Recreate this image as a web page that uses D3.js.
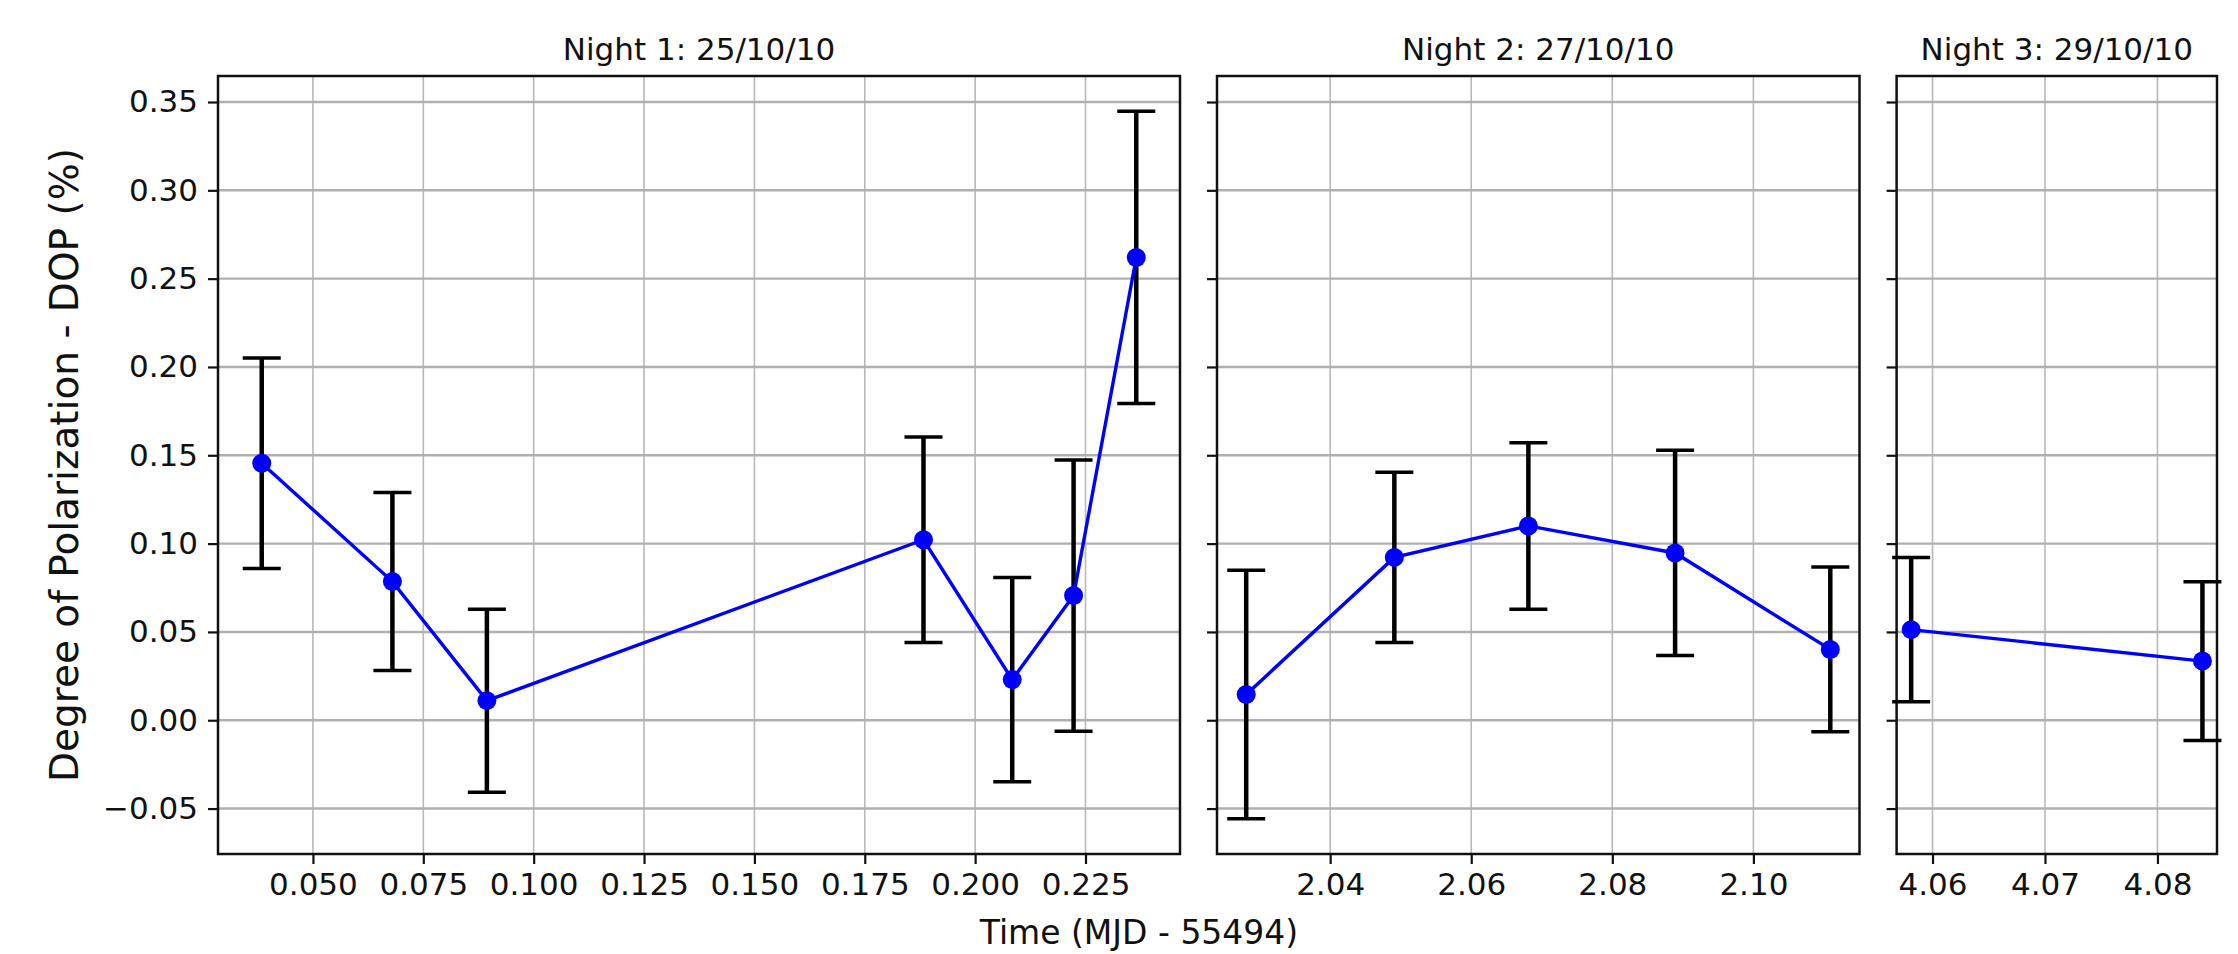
<!DOCTYPE html>
<html>
<head>
<meta charset="utf-8">
<script src="https://cdn.jsdelivr.net/npm/d3@7"></script>
<style>
  body { margin: 0; background: #fff; }
  text { font-family: "DejaVu Sans", sans-serif; fill: #111; }
</style>
</head>
<body>
<svg id="chart" width="2238" height="954"></svg>
<script>
// ---- data ----
var nightTitles = ["Night 1: 25/10/10", "Night 2: 27/10/10", "Night 3: 29/10/10"];

var night1Time = [0.0384, 0.0680, 0.0894, 0.1883, 0.2084, 0.2223, 0.2365];
var night1Dop  = [0.1455, 0.0785, 0.0111, 0.1022, 0.0230, 0.0706, 0.2620];
var night1Err  = [0.0596, 0.0504, 0.0518, 0.0582, 0.0578, 0.0768, 0.0827];

var night2Time = [2.0281, 2.0491, 2.0681, 2.0889, 2.1109];
var night2Dop  = [0.0146, 0.0922, 0.1100, 0.0947, 0.0401];
var night2Err  = [0.0703, 0.0482, 0.0471, 0.0581, 0.0466];

var night3Time = [4.0581, 4.0840];
var night3Dop  = [0.0513, 0.0335];
var night3Err  = [0.0408, 0.0449];

var night1Ticks = [0.050, 0.075, 0.100, 0.125, 0.150, 0.175, 0.200, 0.225];
var night2Ticks = [2.04, 2.06, 2.08, 2.10];
var night3Ticks = [4.06, 4.07, 4.08];
var dopTicks = [-0.05, 0.00, 0.05, 0.10, 0.15, 0.20, 0.25, 0.30, 0.35];

var panels = [
  {title: nightTitles[0], t: night1Time, v: night1Dop, e: night1Err, ticks: night1Ticks, fmt: ".3f", x0: 218, x1: 1180},
  {title: nightTitles[1], t: night2Time, v: night2Dop, e: night2Err, ticks: night2Ticks, fmt: ".2f", x0: 1217, x1: 1859.5},
  {title: nightTitles[2], t: night3Time, v: night3Dop, e: night3Err, ticks: night3Ticks, fmt: ".2f", x0: 1896.6, x1: 2217}
];

var plotTop = 76, plotBottom = 854;
var svg = d3.select("#chart");

// shared y scale, matplotlib-like 5% margins
var lows = [], highs = [];
panels.forEach(function(p) {
  p.v.forEach(function(d, i) { lows.push(d - p.e[i]); highs.push(d + p.e[i]); });
});
var yMin = d3.min(lows), yMax = d3.max(highs), yPad = (yMax - yMin) * 0.05;
var y = d3.scaleLinear().domain([yMin - yPad, yMax + yPad]).range([plotBottom, plotTop]);

panels.forEach(function(p, k) {
  var tMin = d3.min(p.t), tMax = d3.max(p.t), tPad = (tMax - tMin) * 0.05;
  var x = d3.scaleLinear().domain([tMin - tPad, tMax + tPad]).range([p.x0, p.x1]);
  var g = svg.append("g");

  // grid
  g.selectAll(".vgrid").data(p.ticks).enter().append("line")
    .attr("x1", function(d) { return x(d); }).attr("x2", function(d) { return x(d); })
    .attr("y1", plotTop).attr("y2", plotBottom)
    .attr("stroke", "#b8b8b8").attr("stroke-width", 1.6);
  g.selectAll(".hgrid").data(dopTicks).enter().append("line")
    .attr("x1", p.x0).attr("x2", p.x1)
    .attr("y1", function(d) { return y(d); }).attr("y2", function(d) { return y(d); })
    .attr("stroke", "#b0b0b0").attr("stroke-width", 2.4);

  // x axis
  var xAxis = d3.axisBottom(x).tickValues(p.ticks).tickFormat(d3.format(p.fmt))
    .tickSize(10).tickPadding(9);
  var gx = g.append("g").attr("transform", "translate(0," + plotBottom + ")").call(xAxis);
  gx.select(".domain").remove();
  gx.selectAll(".tick line").attr("stroke", "#111").attr("stroke-width", 2.2);
  gx.selectAll(".tick text").attr("font-size", 31).style("fill", "#111");

  // y axis (labels only on first panel)
  var yAxis = d3.axisLeft(y).tickValues(dopTicks).tickSize(10).tickPadding(10)
    .tickFormat(k === 0 ? d3.format(".2f") : function() { return ""; });
  var gy = g.append("g").attr("transform", "translate(" + p.x0 + ",0)").call(yAxis);
  gy.select(".domain").remove();
  gy.selectAll(".tick line").attr("stroke", "#111").attr("stroke-width", 2.2);
  gy.selectAll(".tick text").attr("font-size", 31).style("fill", "#111");

  // frame
  g.append("rect").attr("x", p.x0).attr("y", plotTop)
    .attr("width", p.x1 - p.x0).attr("height", plotBottom - plotTop)
    .attr("fill", "none").attr("stroke", "#111").attr("stroke-width", 2.5);

  // title
  g.append("text").attr("x", (p.x0 + p.x1) / 2).attr("y", 60)
    .attr("text-anchor", "middle").attr("font-size", 31).text(p.title);

  var pts = p.t.map(function(t, i) { return {t: t, v: p.v[i], e: p.e[i]}; });

  // error bars
  var eb = g.selectAll(".eb").data(pts).enter().append("g");
  eb.append("line")
    .attr("x1", function(d) { return x(d.t); }).attr("x2", function(d) { return x(d.t); })
    .attr("y1", function(d) { return y(d.v - d.e); }).attr("y2", function(d) { return y(d.v + d.e); })
    .attr("stroke", "#000").attr("stroke-width", 4.5);
  [-1, 1].forEach(function(s) {
    eb.append("line")
      .attr("x1", function(d) { return x(d.t) - 19; }).attr("x2", function(d) { return x(d.t) + 19; })
      .attr("y1", function(d) { return y(d.v + s * d.e); }).attr("y2", function(d) { return y(d.v + s * d.e); })
      .attr("stroke", "#000").attr("stroke-width", 3.5);
  });

  // data line and markers
  var line = d3.line().x(function(d) { return x(d.t); }).y(function(d) { return y(d.v); });
  g.append("path").datum(pts).attr("d", line)
    .attr("fill", "none").attr("stroke", "#0000ff").attr("stroke-width", 3.4);
  g.selectAll(".dot").data(pts).enter().append("circle")
    .attr("cx", function(d) { return x(d.t); }).attr("cy", function(d) { return y(d.v); })
    .attr("r", 9.5).attr("fill", "#0000ff");
});

// axis labels
svg.append("text").attr("x", 1139).attr("y", 944).attr("text-anchor", "middle")
  .attr("font-size", 33).text("Time (MJD - 55494)");
svg.append("text").attr("transform", "translate(78,465) rotate(-90)")
  .attr("text-anchor", "middle").attr("font-size", 39)
  .text("Degree of Polarization - DOP (%)");
</script>
</body>
</html>
